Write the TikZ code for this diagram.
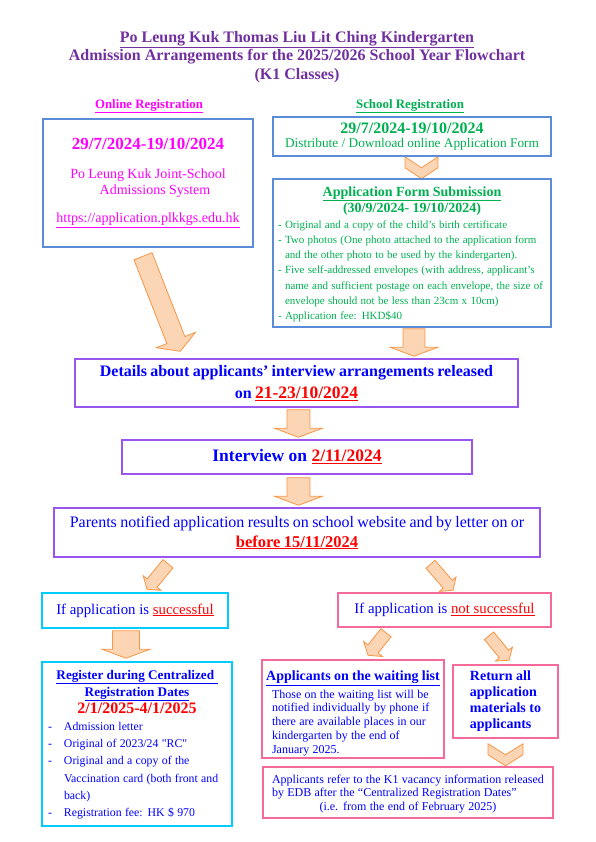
\documentclass[tikz,border=0pt]{standalone}
\usepackage{fontspec}
\setmainfont{Liberation Serif}
\usetikzlibrary{positioning}
\usetikzlibrary{calc}
\usetikzlibrary{backgrounds}
\setlength{\parindent}{0pt}
\definecolor{diagrampurple}{RGB}{112,48,160}
\definecolor{diagrammagenta}{RGB}{255,0,255}
\definecolor{diagramgreen}{RGB}{0,176,80}
\definecolor{diagramblue}{RGB}{0,0,255}
\definecolor{diagramred}{RGB}{255,0,0}
\definecolor{boxblue}{RGB}{90,140,215}
\definecolor{boxviolet}{RGB}{153,85,238}
\definecolor{boxcyan}{RGB}{0,204,255}
\definecolor{boxpink}{RGB}{245,105,155}
\definecolor{arroworange}{RGB}{247,150,70}
\definecolor{arrowpeach}{RGB}{252,213,180}

\tikzset{
    flowbox/.style={draw=#1, line width=1.5pt, inner sep=0pt},
    blockarrow/.style={draw=arroworange, fill=arrowpeach, line width=0.8pt, line join=miter},
}

\newcommand{\fsize}[2]{\fontsize{#1}{#2}\selectfont}

% block arrow: tail, tip, half shaft width, half head width, head length
\newcommand{\fatarrow}[5]{%
    \draw[blockarrow] let \p1=($(#2)-(#1)$), \n1={atan2(\y1,\x1)}, \n2={veclen(\x1,\y1)} in
        ($(#1)+(\n1+90:#3)$) -- ++(\n1:\n2-#5) -- ++(\n1+90:#4-#3) -- (#2)
        -- ($(#1)+(\n1:\n2-#5)+(\n1-90:#4)$) -- ++(\n1+90:#4-#3) -- ($(#1)+(\n1-90:#3)$) -- cycle;}

% chevron: top centre, half width, depth
\newcommand{\chevron}[3]{%
    \draw[blockarrow] (#1) ++(-#2,0) -- ++(#2,#3) -- ++(#2,-#3) -- ++(0,#3) -- ++(-#2,#3) -- ++(-#2,-#3) -- cycle;}

\begin{document}
\begin{tikzpicture}[x=1pt, y=-1pt, every node/.style={align=center, inner sep=0pt}]

    \useasboundingbox (0,0) rectangle (595,842);

    % Title
    \node[text=diagrampurple, font=\bfseries\fsize{16}{18.5}] (titleText) at (297,57) {%
        \underline{Po Leung Kuk Thomas Liu Lit Ching Kindergarten}\\
        Admission Arrangements for the 2025/2026 School Year Flowchart\\
        (K1 Classes)};

    % Column headings
    \node[text=diagrammagenta, font=\bfseries\fsize{12.8}{15}] (onlineHead) at (149,106) {\underline{Online Registration}};
    \node[text=diagramgreen, font=\bfseries\fsize{12.9}{15}] (schoolHead) at (410,106) {\underline{School Registration}};

    % Online registration box
    \node[flowbox=boxblue, minimum width=210pt, minimum height=128pt, text width=200pt, text=diagrammagenta] (onlineBox) at (148,183) {%
        {\bfseries\fsize{17}{20}29/7/2024-19/10/2024\par}
        \vspace{13pt}
        {\fsize{14}{16}Po Leung Kuk Joint-School\\\hspace*{14pt}Admissions System\par}
        \vspace{12pt}
        {\fsize{14}{16}\underline{https://application.plkkgs.edu.hk}\par}
    };

    % School registration box
    \node[flowbox=boxblue, minimum width=278pt, minimum height=39pt, text width=272pt, text=diagramgreen] (schoolBox) at (412,136.5) {%
        {\bfseries\fsize{16}{18}29/7/2024-19/10/2024\par}
        {\fsize{13.3}{13.5}Distribute / Download online Application Form\par}
    };

    % Application form submission box
    \node[flowbox=boxblue, minimum width=278pt, minimum height=148pt, text width=268pt, align=left, text=diagramgreen] (submitBox) at (412,253) {%
        \par\vspace*{-2pt}
        {\centering\bfseries\fsize{14}{16}\underline{Application Form Submission}\\(30/9/2024- 19/10/2024)\par}
        \vspace{1pt}
        {\fsize{11}{15.2}%
        \begin{tabular}[t]{@{}l@{\ }l@{}}
            - & Original and a copy of the child's birth certificate\\
            - & Two photos (One photo attached to the application form\\
              & and the other photo to be used by the kindergarten).\\
            - & Five self-addressed envelopes (with address, applicant's\\
              & name and sufficient postage on each envelope, the size of\\
              & envelope should not be less than 23cm x 10cm)\\
            - & Application fee: HKD\$40
        \end{tabular}\par}
    };

    % Interview arrangements box
    \node[flowbox=boxviolet, minimum width=443pt, minimum height=48pt, text width=437pt, text=diagramblue] (detailsBox) at (296.5,383) {%
        {\bfseries\fsize{16}{18}Details about applicants' interview arrangements released\par}
        {\bfseries\fsize{16}{22}on {\color{diagramred}\fsize{17.5}{22}\underline{21-23/10/2024}}\par}
    };

    % Interview box
    \node[flowbox=boxviolet, minimum width=350pt, minimum height=34pt, text=diagramblue, font=\bfseries\fsize{17.5}{20}] (interviewBox) at (297,457) {Interview on {\color{diagramred}\underline{2/11/2024}}};

    % Results box
    \node[flowbox=boxviolet, minimum width=486pt, minimum height=49pt, text width=478pt, text=diagramblue] (resultBox) at (297,532.5) {%
        {\fsize{16}{18}Parents notified application results on school website and by letter on or\par}
        {\bfseries\fsize{16.5}{20}\color{diagramred}\underline{before 15/11/2024}\par}
    };

    % Successful / not successful
    \node[flowbox=boxcyan, minimum width=186pt, minimum height=35pt, text=diagramblue, font=\fsize{14.8}{17}] (successBox) at (135,610.5) {If application is {\color{diagramred}\underline{successful}}};
    \node[flowbox=boxpink, minimum width=213pt, minimum height=34pt, text=diagramblue, font=\fsize{14.8}{17}] (failBox) at (444.5,610) {If application is {\color{diagramred}\underline{not successful}}};

    % Register box
    \node[flowbox=boxcyan, minimum width=190pt, minimum height=164pt, text width=178pt, align=left, text=diagramblue] (registerBox) at (137,744) {%
        \par\vspace*{-4pt}
        {\centering\bfseries\fsize{13.2}{17}\underline{Register during Centralized }\\\underline{Registration Dates}\par}
        {\centering\bfseries\fsize{16}{17}\color{diagramred}2/1/2025-4/1/2025\par}
        {\fsize{11.8}{17.2}%
        \begin{tabular}[t]{@{}p{16pt}@{}l@{}}
            - & Admission letter\\
            - & Original of 2023/24 \textquotedbl RC\textquotedbl\\
            - & Original and a copy of the\\
              & Vaccination card (both front and\\
              & back)\\
            - & Registration fee: HK \$ 970
        \end{tabular}\par}
    };

    % Waiting list box
    \node[flowbox=boxpink, minimum width=182pt, minimum height=98pt, text width=178pt, align=left, text=diagramblue] (waitBox) at (353,709) {%
        \par\vspace*{2.4pt}
        {\centering\bfseries\fsize{14}{16}\underline{Applicants on the waiting list}\par}
        \vspace{3.8pt}
        {\fsize{12}{13.7}\leftskip=8pt Those on the waiting list will be\\notified individually by phone if\\there are available places in our\\kindergarten by the end of\\January 2025.\par}
    };

    % Return box
    \node[flowbox=boxpink, minimum width=105pt, minimum height=73pt, align=left, text=diagramblue, font=\bfseries\fsize{14}{16}] (returnBox) at (505.5,701.5) {Return all\\application\\materials to\\applicants};

    % Vacancy information box
    \node[flowbox=boxpink, minimum width=290pt, minimum height=51pt, text width=272pt, align=left, text=diagramblue] (referBox) at (408,792.5) {%
        \par\vspace*{-2pt}
        {\fsize{12}{13.5}Applicants refer to the K1 vacancy information released\\by EDB after the “Centralized Registration Dates”\par
        {\centering (i.e. from the end of February 2025)\par}}
    };

    % Arrow ends
    \coordinate (bigTail) at ($(onlineBox.south)+(-5,8.5)$);
    \coordinate (bigTip) at ($(detailsBox.north west)+(106,-7)$);
    \coordinate (submitTail) at ($(submitBox.south)+(2,1)$);
    \coordinate (submitTip) at ($(submitTail |- detailsBox.north)+(0,-2)$);
    \coordinate (detailsTail) at ($(detailsBox.south)+(2,2)$);
    \coordinate (detailsTip) at ($(detailsTail |- interviewBox.north)+(0,-2)$);
    \coordinate (interviewTail) at ($(interviewBox.south)+(1.5,3)$);
    \coordinate (interviewTip) at ($(interviewTail |- resultBox.north)+(0,-2)$);
    \coordinate (passTail) at ($(resultBox.south)+(-129,6)$);
    \coordinate (passTip) at ($(successBox.north)+(12,-3)$);
    \coordinate (failTail) at ($(resultBox.south)+(133.5,6.5)$);
    \coordinate (failTip) at ($(failBox.north)+(8.5,-2)$);
    \coordinate (registerTail) at ($(successBox.south)+(-9,2)$);
    \coordinate (registerTip) at ($(registerTail |- registerBox.north)+(0,-3)$);
    \coordinate (waitTail) at ($(failBox.south)+(-58.5,5)$);
    \coordinate (waitTip) at ($(waitBox.north)+(15,-4)$);
    \coordinate (returnTail) at ($(failBox.south)+(44.5,8)$);
    \coordinate (returnTip) at ($(returnBox.north)+(3.5,-4)$);
    \coordinate (chevOneTop) at ($(schoolBox.south)+(9.5,0)$);
    \coordinate (chevTwoTop) at ($(returnBox.south)+(0,5)$);

    % Arrows
    \begin{scope}[on background layer]
        \fatarrow{bigTail}{bigTip}{9.7pt}{21pt}{12pt}
        \fatarrow{submitTail}{submitTip}{11pt}{24pt}{9pt}
        \fatarrow{detailsTail}{detailsTip}{11.5pt}{24pt}{9pt}
        \fatarrow{interviewTail}{interviewTip}{11.5pt}{24pt}{9pt}
        \fatarrow{passTail}{passTip}{6.5pt}{11.5pt}{8pt}
        \fatarrow{failTail}{failTip}{6pt}{11pt}{8pt}
        \fatarrow{registerTail}{registerTip}{13.5pt}{24pt}{9pt}
        \fatarrow{waitTail}{waitTip}{6.5pt}{12pt}{8pt}
        \fatarrow{returnTail}{returnTip}{6pt}{11pt}{8pt}
        \chevron{chevOneTop}{16.5}{11}
        \chevron{chevTwoTop}{17.5}{11}
    \end{scope}

\end{tikzpicture}
\end{document}
